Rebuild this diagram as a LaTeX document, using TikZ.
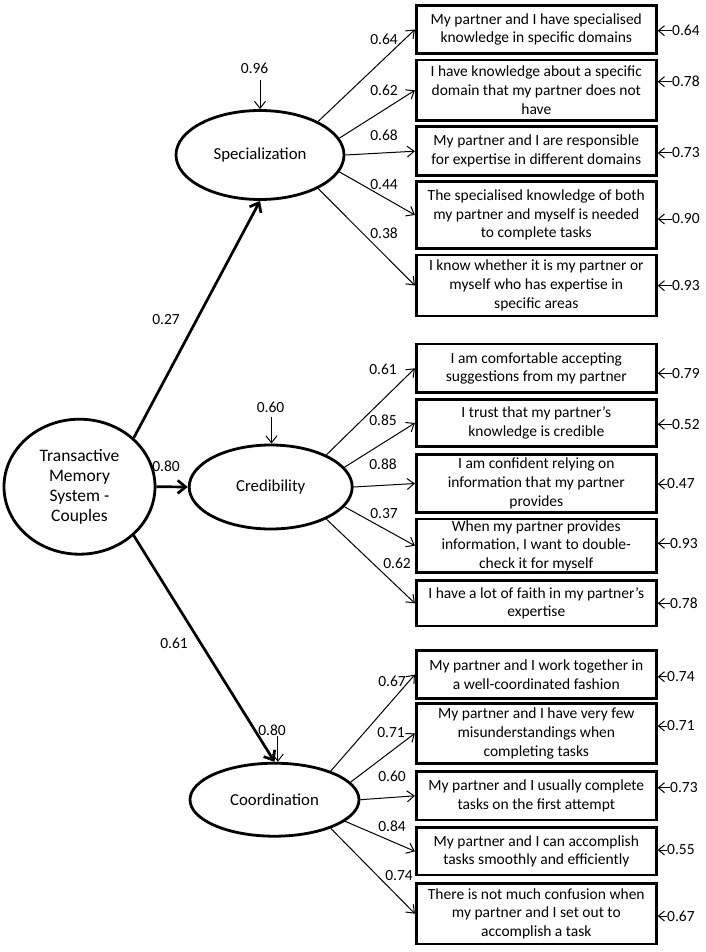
\documentclass[tikz,border=0pt]{standalone}
\usepackage{fontspec}
\setmainfont{Carlito}
\usetikzlibrary{shapes.geometric}
\usetikzlibrary{arrows.meta}

\begin{document}
\begin{tikzpicture}[x=1pt,y=-1pt,>={Straight Barb[length=7pt,width=11pt]},
    latent node/.style={ellipse,draw,line width=2.8pt,inner sep=0pt,align=center,font=\fontsize{16.8}{20}\selectfont},
    item node/.style={rectangle,draw,line width=2.8pt,minimum width=240pt,inner sep=1pt,align=center,font=\fontsize{15.5}{18.7}\selectfont},
    num node/.style={inner sep=0pt,font=\fontsize{15.5}{18}\selectfont},
    load arrow/.style={->,line width=1pt},
    main arrow/.style={->,line width=2.7pt,>={Straight Barb[length=8pt,width=13pt]}},
    err arrow/.style={->,line width=1pt,>={Straight Barb[length=6pt,width=10pt]}}]
  \useasboundingbox (0,0) rectangle (705,952);

  % latent variables
  \node[latent node,minimum width=151pt,minimum height=135pt,font=\fontsize{17.5}{20}\selectfont] (tms) at (79.5,486.7) {Transactive\\Memory\\System -\\Couples};
  \node[latent node,minimum width=168pt,minimum height=89pt] (spec) at (260,155) {Specialization};
  \node[latent node,minimum width=163pt,minimum height=84pt] (cred) at (270.7,487) {Credibility};
  \node[latent node,minimum width=169pt,minimum height=73pt] (coord) at (274.5,799.7) {Coordination};

  % items: specialization
  \node[item node,minimum height=47.6pt] (s1) at (536.3,29.5) {My partner and I have specialised\\knowledge in specific domains};
  \node[item node,minimum height=60.7pt] (s2) at (536.3,90.3) {I have knowledge about a specific\\domain that my partner does not\\have};
  \node[item node,minimum height=49pt] (s3) at (536.3,151.2) {My partner and I are responsible\\for expertise in different domains};
  \node[item node,minimum height=66.6pt] (s4) at (536.3,215) {The specialised knowledge of both\\my partner and myself is needed\\to complete tasks};
  \node[item node,minimum height=61pt] (s5) at (536.3,285.5) {I know whether it is my partner or\\myself who has expertise in\\specific areas};
  % items: credibility
  \node[item node,minimum height=48.7pt] (c1) at (536.3,368.3) {I am comfortable accepting\\suggestions from my partner};
  \node[item node,minimum height=47.4pt] (c2) at (536.3,423) {I trust that my partner’s\\knowledge is credible};
  \node[item node,minimum height=58.4pt] (c3) at (536.3,483.5) {I am confident relying on\\information that my partner\\provides};
  \node[item node,minimum height=53.3pt] (c4) at (536.3,545.7) {When my partner provides\\information, I want to double-\\check it for myself};
  \node[item node,minimum height=45.3pt] (c5) at (536.3,603.3) {I have a lot of faith in my partner’s\\expertise};
  % items: coordination
  \node[item node,minimum height=47.6pt] (k1) at (536.3,674.5) {My partner and I work together in\\a well-coordinated fashion};
  \node[item node,minimum height=60pt] (k2) at (536.3,733.3) {My partner and I have very few\\misunderstandings when\\completing tasks};
  \node[item node,minimum height=48.3pt] (k3) at (536.3,795.8) {My partner and I usually complete\\tasks on the first attempt};
  \node[item node,minimum height=47.3pt] (k4) at (536.3,851.3) {My partner and I can accomplish\\tasks smoothly and efficiently};
  \node[item node,minimum height=60.7pt] (k5) at (536.3,913.7) {There is not much confusion when\\my partner and I set out to\\accomplish a task};

  % structural paths
  \draw[main arrow] (tms.42) -- (spec.south);
  \draw[main arrow] (tms.east) -- (cred.west);
  \draw[main arrow] (tms.-42) -- (coord.north);
  \node[num node] (p1) at (166,320) {0.27};
  \node[num node] (p2) at (166,466) {0.80};
  \node[num node] (p3) at (174,643) {0.61};

  % residuals of latent variables
  \node[num node] (r1) at (254.5,68) {0.96};
  \node[num node] (r2) at (270.5,407) {0.60};
  \node[num node] (r3) at (272,730) {0.80};
  \draw[load arrow,shorten <=7pt] (r1.south -| spec.north) -- (spec.north);
  \draw[load arrow,shorten <=5pt] (r2.south -| cred.89) -- (cred.89);
  \draw[load arrow] (r3.south -| coord.85) -- (coord.85);

  % loadings
  \foreach \a/\b in {30/s1,12/s2,0/s3,-12/s4,-30/s5}
    \draw[load arrow] (spec.\a) -- (\b.west);
  \foreach \a/\b in {30/c1,15/c2,0/c3,-15/c4,-30/c5}
    \draw[load arrow] (cred.\a) -- (\b.west);
  \foreach \a/\b in {27/k1,13/k2,0/k3,-17/k4,-27/k5}
    \draw[load arrow] (coord.\a) -- (\b.west);

  \foreach \x/\y/\t [count=\i] in {384/39/0.64,384/90.7/0.62,384/135/0.68,384/184.3/0.44,384/233.3/0.38,
      383/369/0.61,383/420/0.85,383/464.3/0.88,384/514/0.37,397/563.3/0.62,
      392/681.7/0.67,391/732.7/0.71,392/776.7/0.60,392/826.7/0.84,399/876/0.74}
    \node[num node] (l\i) at (\x,\y) {\t};

  % item errors
  \foreach \b/\x/\y/\t in {s1/672/30.7/0.64,s2/672/81.7/0.78,s3/672/153/0.73,s4/672/219/0.90,s5/672/285.7/0.93,
      c1/672/373.3/0.79,c2/672/424.3/0.52,c3/667/484/0.47,c4/670/543.3/0.93,c5/670/603.3/0.78,
      k1/667/676.7/0.74,k2/667/726/0.71,k3/670/787.7/0.73,k4/667/850/0.55,k5/667/916/0.67}
  {
    \node[num node,anchor=west] (e\b) at (\x,\y) {\t};
    \draw[err arrow] (e\b.west) -- (e\b.west -| \b.east);
  }
\end{tikzpicture}
\end{document}
